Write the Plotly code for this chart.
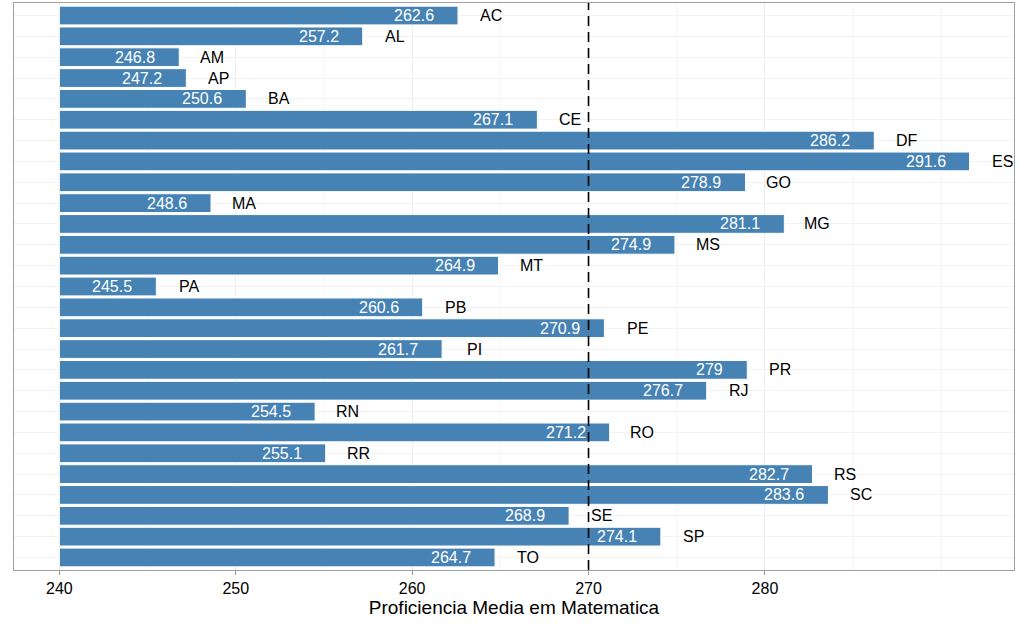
import plotly.graph_objects as go

states = ["AC", "AL", "AM", "AP", "BA", "CE", "DF", "ES", "GO", "MA", "MG", "MS", "MT", "PA",
          "PB", "PE", "PI", "PR", "RJ", "RN", "RO", "RR", "RS", "SC", "SE", "SP", "TO"]
values = [262.6, 257.2, 246.8, 247.2, 250.6, 267.1, 286.2, 291.6, 278.9, 248.6, 281.1, 274.9, 264.9, 245.5,
          260.6, 270.9, 261.7, 279, 276.7, 254.5, 271.2, 255.1, 282.7, 283.6, 268.9, 274.1, 264.7]
value_labels = ["262.6", "257.2", "246.8", "247.2", "250.6", "267.1", "286.2", "291.6", "278.9", "248.6",
                "281.1", "274.9", "264.9", "245.5", "260.6", "270.9", "261.7", "279", "276.7", "254.5",
                "271.2", "255.1", "282.7", "283.6", "268.9", "274.1", "264.7"]
baseline = 240
reference = 270
tick_vals = [240, 250, 260, 270, 280]
x_title = "Proficiencia Media em Matematica"

font = "Liberation Sans, Arial, sans-serif"

fig = go.Figure()
fig.add_trace(go.Bar(
    y=states, x=[v - baseline for v in values], base=baseline, orientation="h",
    marker=dict(color="#4682B4", line=dict(color="white", width=1)),
    width=0.9, showlegend=False, hoverinfo="skip",
))

annotations = []
for s, v, lab in zip(states, values, value_labels):
    annotations.append(dict(x=v - 1.25, y=s, xref="x", yref="y", text=lab, showarrow=False,
                            xanchor="right", yanchor="middle",
                            font=dict(family=font, size=16, color="white")))
    annotations.append(dict(x=v + 1.85, y=s, xref="x", yref="y", text=s, showarrow=False,
                            xanchor="center", yanchor="middle",
                            font=dict(family=font, size=16, color="black")))

fig.add_shape(type="line", x0=reference, x1=reference, y0=0, y1=1, xref="x", yref="paper",
              line=dict(color="black", width=1.6, dash="10px,6px"))

grid_minor = [245, 255, 265, 275, 285, 290]
for g in grid_minor:
    fig.add_shape(type="line", x0=g, x1=g, y0=0, y1=1, xref="x", yref="paper",
                  line=dict(color="#f4f4f4", width=1), layer="below")

fig.update_layout(
    width=1024, height=625,
    margin=dict(l=14, r=10, t=3, b=55, autoexpand=False),
    paper_bgcolor="white", plot_bgcolor="white",
    font=dict(family=font, size=16, color="black"),
    annotations=annotations,
    bargap=0.1,
    xaxis=dict(range=[237.43, 294.12], tickvals=tick_vals, ticks="outside", ticklen=4,
               tickcolor="#999999", tickfont=dict(size=16, color="black"),
               showgrid=True, gridcolor="#ededed", gridwidth=1, zeroline=False,
               showline=True, linecolor="#a0a0a0", linewidth=1, mirror=True, automargin=False,
               title=dict(text=x_title, font=dict(size=19), standoff=2)),
    yaxis=dict(type="category", categoryorder="array", categoryarray=states,
               range=[26.6, -0.6], showticklabels=False, ticks="", automargin=False,
               showgrid=True, gridcolor="#f2f2f2", gridwidth=1, zeroline=False,
               showline=True, linecolor="#a0a0a0", linewidth=1, mirror=True),
)

fig.write_html("out.html", config={"displayModeBar": False},
               post_script="document.body.style.margin='0';document.body.style.overflow='hidden';")
